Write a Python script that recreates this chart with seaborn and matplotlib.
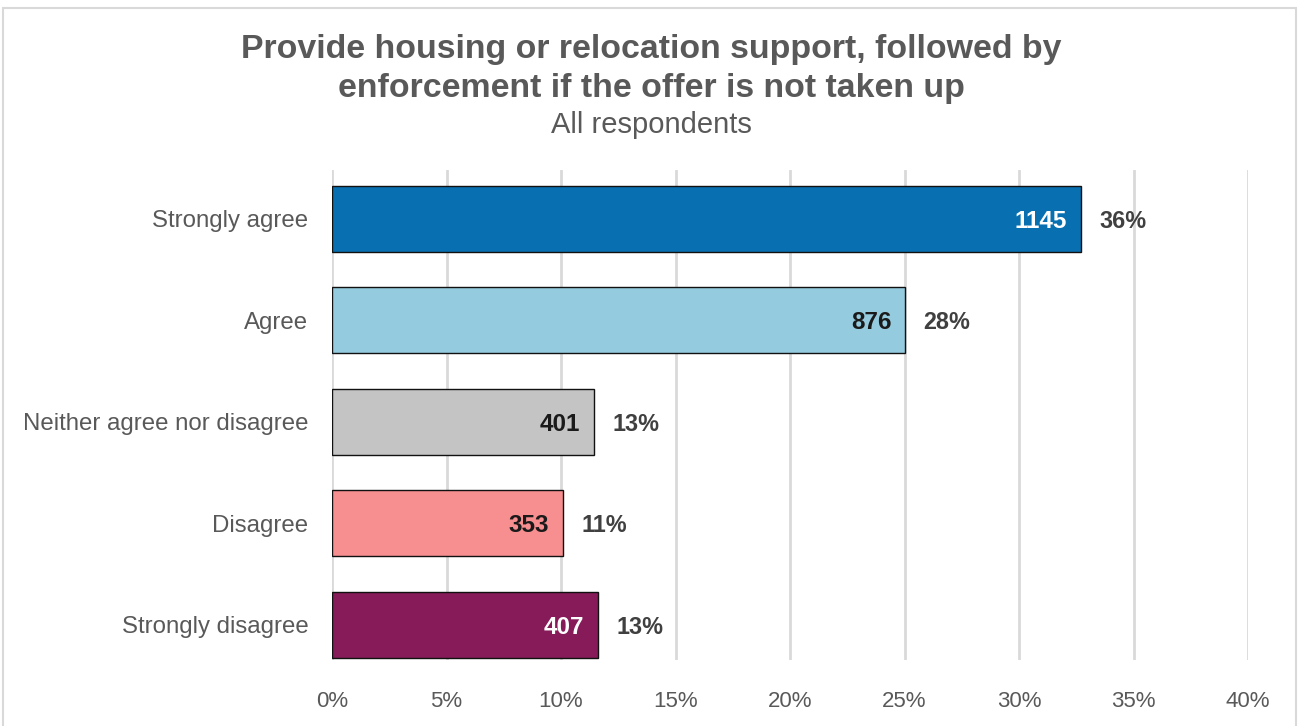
import matplotlib
matplotlib.use("Agg")
import matplotlib.pyplot as plt
from matplotlib.patches import Rectangle
import seaborn as sns
import pandas as pd

# Survey responses
categories = ["Strongly agree", "Agree", "Neither agree nor disagree",
              "Disagree", "Strongly disagree"]
counts = [1145, 876, 401, 353, 407]
total_respondents = 3500  # all respondents, including those not answering
colors = ["#0870B0", "#95CBDE", "#C4C4C4", "#F78E8F", "#871A58"]
count_text_colors = ["white", "#1a1a1a", "#1a1a1a", "#1a1a1a", "white"]
x_ticks = [0, 5, 10, 15, 20, 25, 30, 35, 40]

answered = sum(counts)
df = pd.DataFrame({
    "category": categories,
    "share": [c / total_respondents * 100 for c in counts],
    "count": counts,
    "pct_label": [f"{round(c / answered * 100)}%" for c in counts],
})

sns.set_theme(style="white")
plt.rcParams["font.family"] = ["Liberation Sans", "DejaVu Sans"]

W, H = 1298, 726
fig = plt.figure(figsize=(W / 100, H / 100), dpi=100)
ax = fig.add_axes([332 / W, 1 - 660 / H, (1248 - 332) / W, (660 - 170) / H])

sns.barplot(data=df, y="category", x="share", hue="category",
            palette=colors, order=categories, hue_order=categories,
            orient="h", width=0.65, saturation=1, edgecolor="#111111",
            linewidth=1.0, legend=False, ax=ax, zorder=3)

ax.set_xlim(0, 40)
ax.set_ylim(4.345, -0.48)
ax.set_xticks(x_ticks)
ax.set_xticklabels([f"{t}%" for t in x_ticks], color="#595959", fontsize=16)
ax.tick_params(axis="x", length=0, pad=22)
ax.tick_params(axis="y", length=0, pad=17, labelsize=17.3, labelcolor="#595959")
ax.set_xlabel("")
ax.set_ylabel("")
ax.grid(axis="x", color="#D9D9D9", linewidth=2, zorder=0)
ax.grid(axis="y", visible=False)
for s in ax.spines.values():
    s.set_visible(False)

# Value labels: count inside the bar end, percentage outside
for i, row in df.iterrows():
    ax.annotate(str(row["count"]), xy=(row["share"], i), xytext=(-10, 0),
                textcoords="offset points", ha="right", va="center_baseline",
                fontsize=17.5, fontweight="bold", color=count_text_colors[i],
                zorder=4)
    ax.annotate(row["pct_label"], xy=(row["share"], i), xytext=(13, 0),
                textcoords="offset points", ha="left", va="center_baseline",
                fontsize=16.8, fontweight="bold", color="#404040", zorder=4)

# Titles
cx = 651 / W
fig.text(cx, 1 - 58 / H, "Provide housing or relocation support, followed by",
         ha="center", va="baseline", fontsize=24.4, fontweight="bold", color="#595959")
fig.text(cx, 1 - 97 / H, "enforcement if the offer is not taken up",
         ha="center", va="baseline", fontsize=24.4, fontweight="bold", color="#595959")
fig.text(cx, 1 - 133 / H, "All respondents",
         ha="center", va="baseline", fontsize=21, color="#595959")

# Chart frame
fig.patches.append(Rectangle((3 / W, -0.05), 1293 / W, 1 - 8 / H + 0.05,
                             transform=fig.transFigure, fill=False,
                             edgecolor="#D9D9D9", linewidth=1.5))

fig.savefig("out.png", dpi=100)
